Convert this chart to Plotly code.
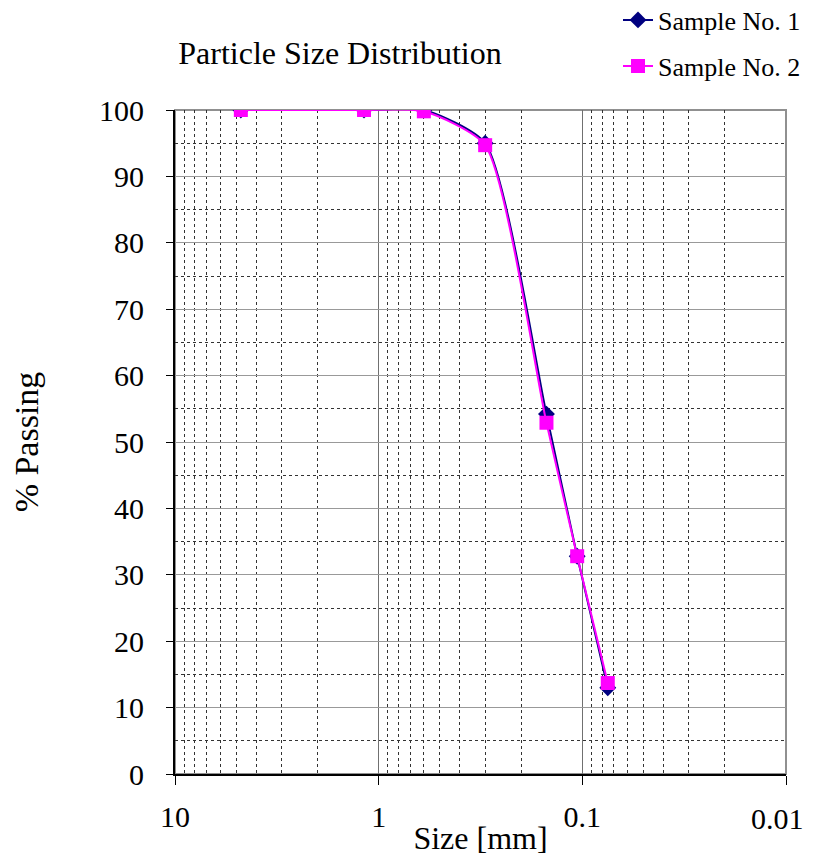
import plotly.graph_objects as go

sizes = [4.75, 1.18, 0.6, 0.3, 0.15, 0.106, 0.075]
sample1 = [100, 100, 100, 95.0, 54.2, 32.8, 13.0]
sample2 = [100, 100, 99.8, 94.7, 52.9, 32.8, 13.7]
xtick_vals = [10, 1, 0.1, 0.01]
xtick_text = ["10", "1", "0.1", "0.01"]

minor_vals = [m * 10.0 ** e for e in (-2, -1, 0) for m in range(2, 10)]

FONT = "Liberation Serif, Times New Roman, serif"
W, H = 806, 848  # page body has an 8px margin

fig = go.Figure()
fig.add_trace(go.Scatter(
    x=sizes, y=sample1, name="Sample No. 1", mode="lines+markers",
    line=dict(color="#000080", width=2, shape="spline", smoothing=0.6),
    marker=dict(symbol="diamond", size=13, color="#000080"),
    legend="legend",
))
fig.add_trace(go.Scatter(
    x=sizes, y=sample2, name="Sample No. 2", mode="lines+markers",
    line=dict(color="#FF00FF", width=2, shape="spline", smoothing=0.6),
    marker=dict(symbol="square", size=14, color="#FF00FF"),
    legend="legend2",
))

leg_common = dict(xref="container", yref="container", xanchor="left",
                  yanchor="middle", font=dict(size=26, family=FONT),
                  bgcolor="rgba(0,0,0,0)", itemwidth=30)

fig.update_layout(
    width=W, height=H,
    margin=dict(l=167, r=28, t=102, b=82, autoexpand=False),
    paper_bgcolor="white", plot_bgcolor="white",
    font=dict(family=FONT, size=30, color="black"),
    title=dict(text="Particle Size Distribution", x=(340 - 8) / W, xanchor="center",
               y=1 - (53 - 8) / H, yanchor="middle", font=dict(size=32)),
    legend=dict(x=(618 - 8) / W, y=1 - (20 - 8) / H, **leg_common),
    legend2=dict(x=(618 - 8) / W, y=1 - (66 - 8) / H, **leg_common),
    showlegend=True,
)

# last tick label is right-aligned (as in the reference) so it stays inside the page
shown_text = xtick_text[:-1] + [""]
fig.add_annotation(
    x=-2, xref="x", y=0, yref="paper", text=xtick_text[-1], showarrow=False,
    xanchor="right", yanchor="middle", xshift=20, yshift=-44,
    font=dict(size=30, family=FONT, color="black"),
)

fig.update_xaxes(
    type="log", range=[1, -2], tickvals=xtick_vals, ticktext=shown_text,
    showgrid=True, gridcolor="#707070", gridwidth=1,
    showline=True, linecolor="black", linewidth=2, mirror=False,
    ticks="outside", ticklen=9, tickcolor="black", tickwidth=1,
    ticklabelstandoff=6,
    minor=dict(tickvals=minor_vals, showgrid=True, gridcolor="#333333",
               griddash="dot", gridwidth=1, ticks=""),
    zeroline=False, automargin=False,
    title=dict(text="Size [mm]", standoff=0, font=dict(size=32)),
    tickfont=dict(size=30),
)
fig.update_yaxes(
    range=[0, 100], dtick=10, showgrid=True, gridcolor="#999999", gridwidth=1,
    showline=True, linecolor="black", linewidth=2,
    ticks="outside", ticklen=7, tickcolor="black", tickwidth=1,
    ticklabelstandoff=16,
    minor=dict(dtick=5, showgrid=True, gridcolor="#333333", griddash="dot",
               gridwidth=1, ticks=""),
    zeroline=False, automargin=False,
    title=dict(text="% Passing", standoff=50, font=dict(size=34)),
    tickfont=dict(size=30),
)
# frame on top and right
fig.add_shape(type="rect", xref="paper", yref="paper", x0=0, y0=0, x1=1, y1=1,
              line=dict(color="#909090", width=2), layer="below")

fig.write_html("out.html")
